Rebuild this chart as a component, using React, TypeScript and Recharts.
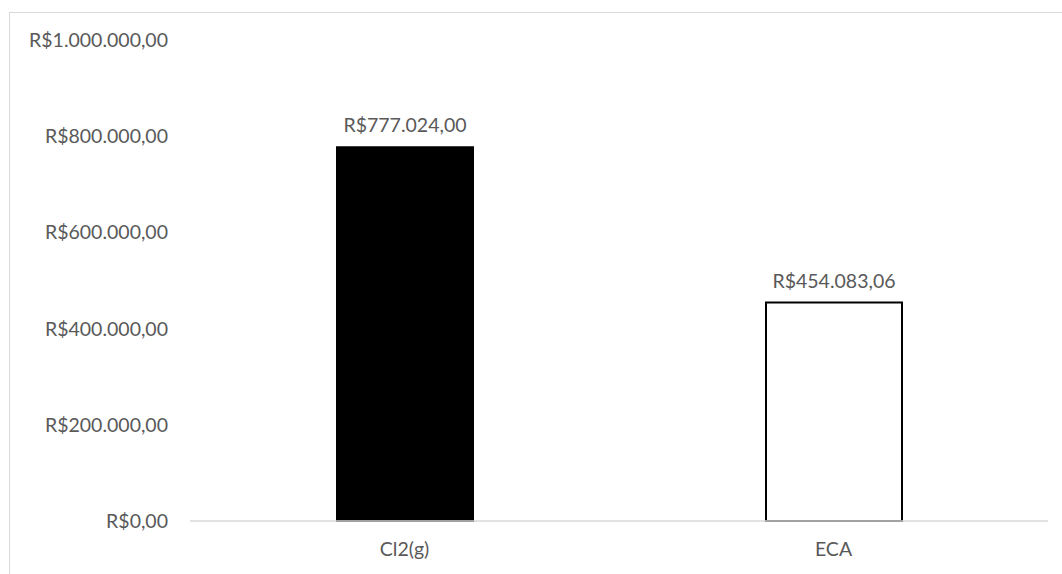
import React from 'react';
import { BarChart, Bar, XAxis, YAxis, LabelList, Cell } from 'recharts';

const categories = ['Cl2(g)', 'ECA'];
const costs = [777024.0, 454083.06];
const yTicks = [0, 200000, 400000, 600000, 800000, 1000000];

const fills = ['#000000', '#ffffff'];

const data = categories.map((name, i) => ({ name, value: costs[i] }));

// R$ 1.234,56 style
const brl = (v: number) => {
  const [int, dec] = Number(v).toFixed(2).split('.');
  const withDots = int.replace(/\B(?=(\d{3})+(?!\d))/g, '.');
  return `R$${withDots},${dec}`;
};

const textColor = '#595959';
const font = 'Lato, "Open Sans", sans-serif';
const fontSize = 19.5;

const App: React.FC = () => {
  return (
    <div
      style={{
        position: 'fixed',
        left: 9,
        top: 12,
        width: 1053,
        height: 562,
        borderTop: '1px solid #d9d9d9',
        borderLeft: '1px solid #d9d9d9',
        background: '#fff',
        fontFamily: font,
      }}
    >
      <BarChart
        width={1052}
        height={561}
        data={data}
        margin={{ top: 27, right: 14, left: 0, bottom: 23 }}
        barCategoryGap={0}
      >
        <XAxis
          dataKey="name"
          height={30}
          tickLine={false}
          tickSize={0}
          tickMargin={21}
          axisLine={{ stroke: '#d9d9d9', strokeWidth: 1.5 }}
          tick={{ fill: textColor, fontSize, fontFamily: font }}
        />
        <YAxis
          width={180}
          domain={[0, 1000000]}
          ticks={yTicks}
          interval={0}
          tickFormatter={brl}
          tickLine={false}
          axisLine={false}
          tickSize={0}
          tickMargin={22}
          tick={{ fill: textColor, fontSize, fontFamily: font }}
        />
        <Bar dataKey="value" barSize={136} stroke="#000" strokeWidth={2} isAnimationActive={false}>
          {data.map((d, i) => (
            <Cell key={d.name} fill={fills[i]} />
          ))}
          <LabelList
            dataKey="value"
            position="top"
            offset={15}
            formatter={(v: number) => brl(v)}
            style={{ fill: textColor, fontSize, fontFamily: font, stroke: 'none' }}
          />
        </Bar>
      </BarChart>
    </div>
  );
};

export default App;
